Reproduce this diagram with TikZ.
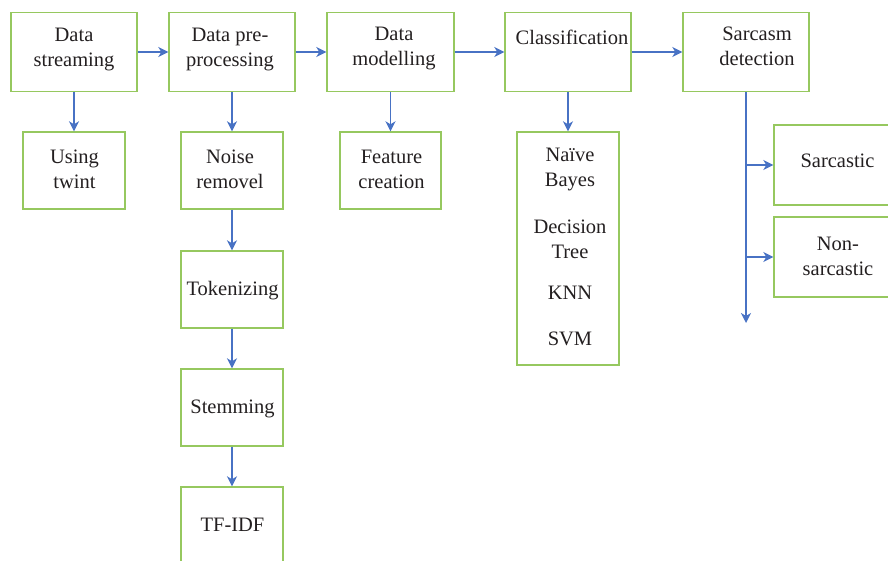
\documentclass[tikz,border=0pt]{standalone}
\usepackage{fontspec}
\setmainfont{Liberation Serif}
\usetikzlibrary{arrows.meta}
\definecolor{boxgreen}{RGB}{150,200,95}
\definecolor{arrblue}{RGB}{72,114,196}
\definecolor{txtc}{RGB}{35,31,32}
\begin{document}
\begin{tikzpicture}[x=1pt,y=-1pt,
 box/.style={draw=boxgreen, line width=1.4pt, rectangle, inner sep=0pt},
 lbl/.style={text=txtc, font=\fontsize{20.5}{25}\selectfont, align=center, anchor=base, inner sep=0pt},
 arr/.style={draw=arrblue, line width=1.5pt, -{Stealth[length=10pt,width=10pt,inset=3pt]}}]
\useasboundingbox (0,0) rectangle (888,560);
\clip (0,0) rectangle (888,560);
% top row
\node[box, minimum width=126pt, minimum height=79pt] (ds) at (74,52) {};
\node[box, minimum width=126pt, minimum height=79pt] (pp) at (232,52) {};
\node[box, minimum width=127pt, minimum height=79pt] (dm) at (390.5,52) {};
\node[box, minimum width=126pt, minimum height=79pt] (cl) at (568,52) {};
\node[box, minimum width=126pt, minimum height=79pt] (sd) at (746,52) {};
% second level
\node[box, minimum width=102pt, minimum height=77pt] (ut) at (74,170.5) {};
\node[box, minimum width=102pt, minimum height=77pt] (nr) at (232,170.5) {};
\node[box, minimum width=101pt, minimum height=77pt] (fc) at (390.5,170.5) {};
\node[box, minimum width=102pt, minimum height=233pt] (ml) at (568,248.5) {};
\node[box, minimum width=102pt, minimum height=77pt] (tk) at (232,289.5) {};
\node[box, minimum width=102pt, minimum height=77pt] (st) at (232,407.5) {};
\node[box, minimum width=102pt, minimum height=77pt] (tf) at (232,525.5) {};
\node[box, minimum width=126pt, minimum height=80pt] (sc) at (837,165) {};
\node[box, minimum width=126pt, minimum height=80pt] (ns) at (837,257) {};
% labels (base anchor = baseline of last line)
\node[lbl] (tds) at (74,66) {Data\\streaming};
\node[lbl] (tpp) at (230,66) {Data pre-\\processing};
\node[lbl] (tdm) at (394,65) {Data\\modelling};
\node[lbl] (tcl) at (572,44) {Classification};
\node[lbl] (tsd) at (757,65) {Sarcasm\\detection};
\node[lbl] (tut) at (74.5,188) {Using\\twint};
\node[lbl] (tnr) at (230,188) {Noise\\removel};
\node[lbl] (tfc) at (391.5,188) {Feature\\creation};
\node[lbl] (tm1) at (570,186) {Naïve\\Bayes};
\node[lbl] (tm2) at (570,258) {Decision\\Tree};
\node[lbl] (tm3) at (570,299) {KNN};
\node[lbl] (tm4) at (570,345) {SVM};
\node[lbl] (ttk) at (232.5,295) {Tokenizing};
\node[lbl] (tst) at (232.5,413) {Stemming};
\node[lbl] (ttf) at (232.5,531) {TF-IDF};
\node[lbl] (tsc) at (837.5,167) {Sarcastic};
\node[lbl] (tns) at (838,275) {Non-\\sarcastic};
% connectors
\draw[arr] (ds.east) -- (pp.west);
\draw[arr] (pp.east) -- (dm.west);
\draw[arr] (dm.east) -- (cl.west);
\draw[arr] (cl.east) -- (sd.west);
\draw[arr] (ds.south) -- (ut.north);
\draw[arr] (pp.south) -- (nr.north);
\draw[arr] (nr.south) -- (tk.north);
\draw[arr] (tk.south) -- (st.north);
\draw[arr] (st.south) -- (tf.north);
\draw[arr] (dm.south) -- (fc.north);
\draw[arr] (cl.south) -- (ml.north);
\coordinate (send) at (746,323);
\coordinate (b1) at (746,165);
\coordinate (b2) at (746,257);
\draw[arr] (sd.south) -- (send);
\draw[arr] (b1) -- (sc.west);
\draw[arr] (b2) -- (ns.west);
\end{tikzpicture}
\end{document}
